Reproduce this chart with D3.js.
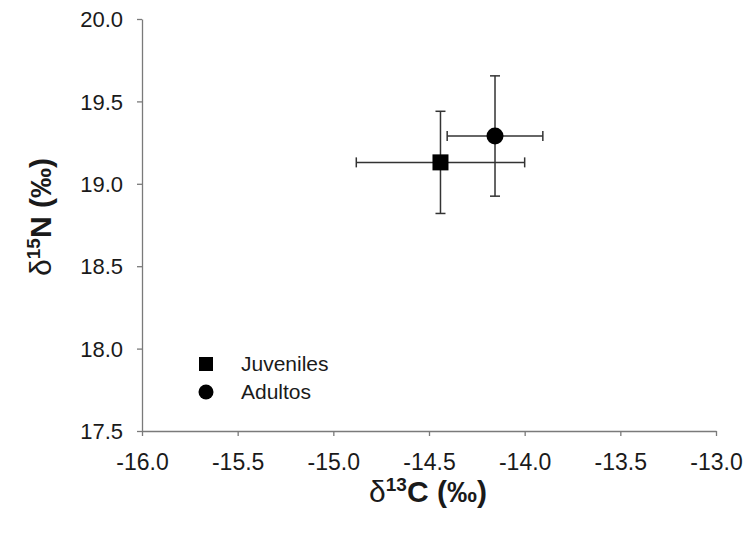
<!DOCTYPE html>
<html><head><meta charset="utf-8">
<script src="https://cdn.jsdelivr.net/npm/d3@7"></script>
<style>body{margin:0;background:#fff;font-family:"Liberation Sans",Arial,sans-serif;}</style>
</head><body><svg id="c" width="748" height="533"></svg>
<script>
const groups = ["Juveniles", "Adultos"];
const carbonMean = [-14.44, -14.155];
const carbonErr = [0.44, 0.25];
const nitrogenMean = [19.13, 19.29];
const nitrogenErr = [0.31, 0.365];
const shapes = ["square", "circle"];
const xTicks = [-16.0, -15.5, -15.0, -14.5, -14.0, -13.5, -13.0];
const yTicks = [17.5, 18.0, 18.5, 19.0, 19.5, 20.0];

const svg = d3.select("#c");
const x = d3.scaleLinear().domain([-16, -13]).range([142, 716]);
const y = d3.scaleLinear().domain([17.5, 20]).range([431, 19]);
const axisColor = "#7a7a7a", textColor = "#1a1a1a";
const fam = "'Liberation Sans', Arial, sans-serif";

const xa = svg.append("g").attr("transform", "translate(0,431)")
  .call(d3.axisBottom(x).tickValues(xTicks).tickFormat(d => d3.format(".1f")(d).replace("−", "-")).tickSize(5).tickSizeOuter(0));
const ya = svg.append("g").attr("transform", "translate(142,0)")
  .call(d3.axisLeft(y).tickValues(yTicks).tickFormat(d3.format(".1f")).tickSize(5).tickSizeOuter(0));
[xa, ya].forEach(a => {
  a.select(".domain").attr("stroke", axisColor).attr("stroke-width", 1.3);
  a.selectAll(".tick line").attr("stroke", axisColor).attr("stroke-width", 1.3);
  a.selectAll("text").attr("fill", textColor).style("font-family", fam);
});
xa.selectAll("text").style("font-size", "23px").attr("dy", "0").attr("y", 39);
ya.selectAll("text").style("font-size", "22px").attr("x", -19).attr("dy", "0.35em");

// titles
const xt = svg.append("text").attr("x", 428).attr("y", 502).attr("text-anchor", "middle")
  .attr("fill", textColor).style("font-size", "30px").style("font-weight", "bold");
xt.append("tspan").text("δ").style("font-weight", "normal");
xt.append("tspan").text("13").attr("dy", -11).style("font-size", "19px");
xt.append("tspan").text("C (‰)").attr("dy", 11);

const yt = svg.append("text").attr("transform", "translate(51,217) rotate(-90)").attr("text-anchor", "middle")
  .attr("fill", textColor).style("font-size", "30px").style("font-weight", "bold");
yt.append("tspan").text("δ").style("font-weight", "normal");
yt.append("tspan").text("15").attr("dy", -11).style("font-size", "19px");
yt.append("tspan").text("N (‰)").attr("dy", 11);

// error bars
const eb = "#333", cap = 5;
groups.forEach((g, i) => {
  const cx = x(carbonMean[i]), cy = y(nitrogenMean[i]);
  const x0 = x(carbonMean[i] - carbonErr[i]), x1 = x(carbonMean[i] + carbonErr[i]);
  const y0 = y(nitrogenMean[i] - nitrogenErr[i]), y1 = y(nitrogenMean[i] + nitrogenErr[i]);
  const gg = svg.append("g").attr("stroke", eb).attr("stroke-width", 1.5);
  gg.append("line").attr("x1", x0).attr("x2", x1).attr("y1", cy).attr("y2", cy);
  gg.append("line").attr("x1", x0).attr("x2", x0).attr("y1", cy - cap).attr("y2", cy + cap);
  gg.append("line").attr("x1", x1).attr("x2", x1).attr("y1", cy - cap).attr("y2", cy + cap);
  gg.append("line").attr("x1", cx).attr("x2", cx).attr("y1", y0).attr("y2", y1);
  gg.append("line").attr("x1", cx - cap).attr("x2", cx + cap).attr("y1", y0).attr("y2", y0);
  gg.append("line").attr("x1", cx - cap).attr("x2", cx + cap).attr("y1", y1).attr("y2", y1);
});
groups.forEach((g, i) => {
  const cx = x(carbonMean[i]), cy = y(nitrogenMean[i]);
  if (shapes[i] === "square") svg.append("rect").attr("x", cx - 8).attr("y", cy - 8).attr("width", 16).attr("height", 16).attr("fill", "#000");
  else svg.append("circle").attr("cx", cx).attr("cy", cy).attr("r", 8.5).attr("fill", "#000");
});

// legend
groups.forEach((g, i) => {
  const ly = 364 + i * 28, lx = 206;
  if (shapes[i] === "square") svg.append("rect").attr("x", lx - 7).attr("y", ly - 7).attr("width", 14).attr("height", 14).attr("fill", "#000");
  else svg.append("circle").attr("cx", lx).attr("cy", ly).attr("r", 7.5).attr("fill", "#000");
  svg.append("text").attr("x", 241).attr("y", ly).attr("dy", "0.35em").attr("fill", textColor)
    .style("font-size", "21px").text(g);
});
</script></body></html>
